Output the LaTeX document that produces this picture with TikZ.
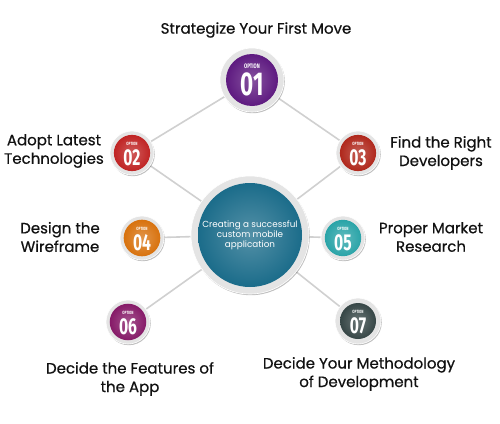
\documentclass[tikz,border=0pt]{standalone}
\usepackage{fontspec}
\usepackage{graphicx}
\setmainfont{Poppins}[FakeBold=0.6]
\newfontfamily\thinfont{Poppins}
\newfontfamily\numfont{Fira Sans}[UprightFont=* Bold]
\usetikzlibrary{shadows,backgrounds}
\definecolor{cpurple}{HTML}{5E1A80}
\definecolor{cred}{HTML}{C02424}
\definecolor{cdred}{HTML}{B0281C}
\definecolor{corange}{HTML}{D8720E}
\definecolor{cteal}{HTML}{2AA4A8}
\definecolor{cmag}{HTML}{861A68}
\definecolor{cslate}{HTML}{364646}
\definecolor{ccenter}{HTML}{1B6C8A}
\definecolor{cring}{HTML}{E4E4E4}
\definecolor{cline}{HTML}{D0D0D0}
\definecolor{ctext}{HTML}{111111}
\newcommand{\optlab}[3]{\begin{tabular}{@{}c@{}}\scalebox{0.7}[1]{\numfont\fontsize{#1}{#1}\selectfont OPTION}\\[0.5pt]\scalebox{0.68}[1]{\numfont\fontsize{#2}{#2}\selectfont #3}\end{tabular}}
\tikzset{
  ring/.style={circle, fill=cring, draw=white, line width=0.6pt, inner sep=0pt,
    drop shadow={shadow xshift=0.8pt, shadow yshift=-1.2pt, opacity=0.25, fill=black}},
  ball/.style={circle, inner sep=0pt, text=white, inner color=#1!75!white, outer color=#1},
  label/.style={align=center, text=ctext, font=\fontsize{15}{18.5}\selectfont},
  conn/.style={draw=cline, line width=1.6pt},
}
\begin{document}
\begin{tikzpicture}[x=1pt,y=-1pt]
\useasboundingbox (0,0) rectangle (500,423);
% center
\node[ring, minimum size=118] (c) at (250,235) {};
\node[ball=ccenter, minimum size=104, align=center, font=\thinfont\fontsize{8.8}{10.2}\selectfont] (ci) at (c) {Creating a successful\\custom mobile\\application};
% options
\node[ring, minimum size=64] (o1) at (252,80) {};
\node[ball=cpurple, minimum size=52] at (o1) {\optlab{6.5}{33}{01}};
\node[ring, minimum size=44] (o2) at (132,153) {};
\node[ball=cred, minimum size=35] at (o2) {\optlab{4.6}{23}{02}};
\node[ring, minimum size=44] (o3) at (358,153) {};
\node[ball=cdred, minimum size=35] at (o3) {\optlab{4.6}{23}{03}};
\node[ring, minimum size=44] (o4) at (142,238) {};
\node[ball=corange, minimum size=35] at (o4) {\optlab{4.6}{23}{04}};
\node[ring, minimum size=44] (o5) at (343,238) {};
\node[ball=cteal, minimum size=35] at (o5) {\optlab{4.6}{23}{05}};
\node[ring, minimum size=44] (o6) at (128,322) {};
\node[ball=cmag, minimum size=35] at (o6) {\optlab{4.6}{23}{06}};
\node[ring, minimum size=46] (o7) at (358,321) {};
\node[ball=cslate, minimum size=36] at (o7) {\optlab{4.6}{23}{07}};
% labels
\node[label] (t1) at (256,30) {Strategize Your First Move};
\node[label] (t2) at (54,151) {Adopt Latest\\Technologies};
\node[label] (t3) at (441,153) {Find the Right\\Developers};
\node[label] (t4) at (60,237) {Design the\\Wireframe};
\node[label] (t5) at (431,237) {Proper Market\\Research};
\node[label] (t6) at (130,379) {Decide the Features of\\the App};
\node[label] (t7) at (359,374) {Decide Your Methodology\\of Development};
% connectors
\begin{scope}[on background layer]
\draw[conn] (o1) -- (o2);
\draw[conn] (o1) -- (o3);
\draw[conn] (o2) -- (c);
\draw[conn] (o3) -- (c);
\draw[conn] (o4) -- (c);
\draw[conn] (o5) -- (c);
\draw[conn] (o6) -- (c);
\draw[conn] (o7) -- (c);
\end{scope}
\end{tikzpicture}
\end{document}
